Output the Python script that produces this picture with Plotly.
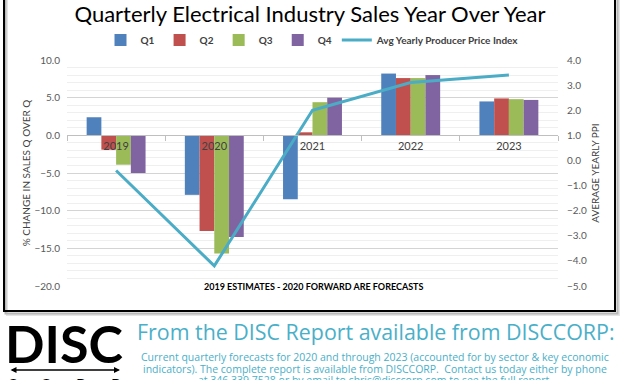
import plotly.graph_objects as go

years = ["2019", "2020", "2021", "2022", "2023"]
q1 = [2.4, -7.9, -8.5, 8.2, 4.5]
q2 = [-1.9, -12.7, 0.4, 7.6, 4.9]
q3 = [-3.9, -15.7, 4.4, 7.6, 4.8]
q4 = [-5.0, -13.5, 5.0, 8.0, 4.7]
ppi = [-0.4, -4.2, 2.0, 3.1, 3.4]
quarter_names = ["Q1", "Q2", "Q3", "Q4"]
quarter_colors = ["#4F81BD", "#C0504D", "#9BBB59", "#8064A2"]
left_range = [-20, 10]
right_range = [-5, 4]
logo_sub = ["C", "O", "R", "P"]

W, H = 620, 380
L, R, T, B = 67, 558, 60, 286  # plot area in pixels
PW, PH = R - L, B - T


def px(x):
    return (x - L) / PW


def py(y):
    return (B - y) / PH


fig = go.Figure()
for name, vals, col in zip(quarter_names, [q1, q2, q3, q4], quarter_colors):
    fig.add_trace(go.Bar(x=years, y=vals, name=name, marker_color=col,
                         marker_line_width=0))
fig.add_trace(go.Scatter(x=years, y=ppi, name="Avg Yearly Producer Price Index",
                         mode="lines", line=dict(color="#4BACC6", width=3),
                         yaxis="y2"))

tick_font = dict(family="Lato", size=10, color="#595959")
zero_pos = (0 - left_range[0]) / (left_range[1] - left_range[0])

fig.update_layout(
    width=W, height=H,
    margin=dict(l=L, r=W - R, t=T, b=H - B, autoexpand=False),
    paper_bgcolor="white", plot_bgcolor="white",
    barmode="group", bargap=0.4, bargroupgap=0,
    font=dict(family="Lato", color="#404040"),
    title=dict(text="Quarterly Electrical Industry Sales Year Over Year",
               x=0.5, xanchor="center", y=1 - 14 / H, yanchor="middle",
               font=dict(family="Lato", size=22, color="#000000")),
    legend=dict(orientation="h", x=0.5, xanchor="center", y=py(40),
                yanchor="middle", font=dict(family="Lato", size=10,
                                            color="#404040", weight="bold"),
                bgcolor="rgba(0,0,0,0)", itemwidth=30, tracegroupgap=0),
    xaxis=dict(type="category", anchor="free", position=zero_pos,
               automargin=False,
               showline=True, linecolor="#BFBFBF", linewidth=1,
               ticks="outside", ticklen=5, tickcolor="#BFBFBF",
               tickson="boundaries", showgrid=False,
               tickfont=dict(family="Lato", size=11, color="#404040")),
    yaxis=dict(range=left_range, dtick=5, tickformat=".1f", automargin=False,
               showgrid=True, gridcolor="#D4D4D4", gridwidth=1,
               minor=dict(dtick=1, showgrid=True, gridcolor="#EFEFEF"),
               zeroline=False, showline=False, ticks="",
               ticklabelstandoff=6, tickfont=tick_font,
               title=dict(text="% CHANGE IN SALES Q OVER Q", standoff=1,
                          font=dict(family="Lato", size=10, color="#404040"))),
    yaxis2=dict(range=right_range, dtick=1, tickformat=".1f", overlaying="y",
                automargin=False,
                side="right", showgrid=False, zeroline=False, ticks="",
                ticklabelstandoff=8, tickfont=tick_font,
                title=dict(text="AVERAGE YEARLY PPI", standoff=6,
                           font=dict(family="Lato", size=10, color="#404040"))),
)

# frame with shadow
for off, col in [(4, "#E4E4E4"), (2.5, "#B8B8B8")]:
    fig.add_shape(type="rect", xref="paper", yref="paper",
                  x0=px(3 + off), x1=px(615 + off), y0=py(311 + off), y1=py(-5),
                  line=dict(color=col, width=2), layer="below")
fig.add_shape(type="rect", xref="paper", yref="paper",
              x0=px(4), x1=px(615), y0=py(311), y1=py(-5),
              line=dict(color="#000000", width=2))

fig.add_annotation(text="<b>2019 ESTIMATES - 2020 FORWARD ARE FORECASTS</b>",
                   xref="paper", yref="paper", x=px(313), y=py(294),
                   showarrow=False, font=dict(family="Lato", size=9, color="#000000"))

# logo
fig.add_annotation(text="DISC", xref="paper", yref="paper", x=px(64), y=py(343),
                   xanchor="center", yanchor="middle", showarrow=False,
                   font=dict(family="Lato", size=52, color="#000000", weight="bold"))
fig.add_annotation(text="", xref="paper", yref="paper", x=px(120), y=py(370),
                   ax=-111, ay=0, axref="pixel", ayref="pixel",
                   showarrow=True, arrowhead=2, arrowside="end+start",
                   arrowsize=0.8, arrowwidth=1.5, arrowcolor="#000000")
for i, ch in enumerate(logo_sub):
    fig.add_annotation(text=ch, xref="paper", yref="paper",
                       x=px(12 + 34.5 * i), y=py(383), xanchor="center",
                       yanchor="middle", showarrow=False,
                       font=dict(family="Lato", size=16, color="#000000"))

fig.add_annotation(text="From the DISC Report available from DISCCORP:",
                   xref="paper", yref="paper", x=px(376), y=py(331),
                   xanchor="center", yanchor="middle", showarrow=False,
                   font=dict(family="Open Sans", size=21.4, color="#4AAFC8"))
lines = [
    "Current quarterly forecasts for 2020 and through 2023 (accounted for by sector & key economic",
    "indicators). The complete report is available from DISCCORP.  Contact us today either by phone",
    "at 346.339.7528 or by email to chris@disccorp.com to see the full report.",
]
for i, ln in enumerate(lines):
    fig.add_annotation(text=ln, xref="paper", yref="paper", x=px(375),
                       y=py(357 + 11.7 * i), xanchor="center", yanchor="middle",
                       showarrow=False,
                       font=dict(family="Open Sans", size=10.5, color="#4AAFC8"))

fig.write_html("out.html", config={"displayModeBar": False},
               post_script="document.body.style.margin='0';document.body.style.padding='0';")
